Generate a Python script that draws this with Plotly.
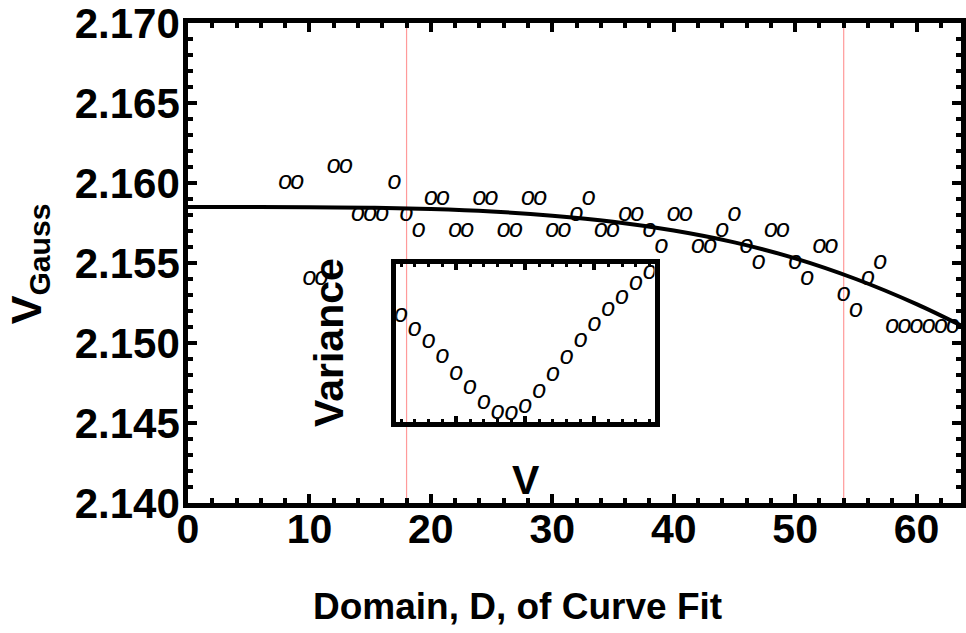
import plotly.graph_objects as go

# ---- data ----
domain_d = list(range(8, 64))
v_gauss = [2.160, 2.160, 2.154, 2.154, 2.161, 2.161, 2.158, 2.158, 2.158, 2.160,
           2.158, 2.157, 2.159, 2.159, 2.157, 2.157, 2.159, 2.159, 2.157, 2.157,
           2.159, 2.159, 2.157, 2.157, 2.158, 2.159, 2.157, 2.157, 2.158, 2.158,
           2.157, 2.156, 2.158, 2.158, 2.156, 2.156, 2.157, 2.158, 2.156, 2.155,
           2.157, 2.157, 2.155, 2.154, 2.156, 2.156, 2.153, 2.152, 2.154, 2.155,
           2.151, 2.151, 2.151, 2.151, 2.151, 2.151]

fit_d = [0, 5, 10, 15, 20, 25, 30, 35, 40, 45, 50, 55, 60, 63.7]
fit_v = [2.15850, 2.15850, 2.15849, 2.15845, 2.15837, 2.15822, 2.15796,
         2.15758, 2.15703, 2.15629, 2.15529, 2.15400, 2.15243, 2.15108]

domain_limits = [18, 54]

inset_v = list(range(1, 20))
inset_variance = [0.671, 0.583, 0.508, 0.414, 0.307, 0.219, 0.125, 0.063, 0.056,
                  0.100, 0.194, 0.301, 0.408, 0.514, 0.614, 0.708, 0.784, 0.871, 0.945]

x_ticks = [0, 10, 20, 30, 40, 50, 60]
y_ticks = [2.140, 2.145, 2.150, 2.155, 2.160, 2.165, 2.170]

FONT = "Liberation Sans"
marker_font = dict(family=FONT, size=25, style="italic", color="black")

fig = go.Figure()

fig.add_trace(go.Scatter(x=fit_d, y=fit_v, mode="lines", line=dict(color="black", width=4, shape="spline"),
                         hoverinfo="skip", showlegend=False))
fig.add_trace(go.Scatter(x=domain_d, y=v_gauss, mode="text", text=["o"] * len(domain_d),
                         textposition="middle center", textfont=marker_font, showlegend=False))
fig.add_trace(go.Scatter(x=inset_v, y=inset_variance, mode="text", text=["o"] * len(inset_v),
                         textposition="middle center", textfont=marker_font, showlegend=False,
                         xaxis="x2", yaxis="y2"))

for d in domain_limits:
    fig.add_shape(type="line", xref="x", yref="paper", x0=d, x1=d, y0=0, y1=1,
                  line=dict(color="#ff9a9a", width=1.2), layer="below")

xtickfont = dict(family=FONT, size=41, weight="bold", color="black")
ytickfont = dict(family=FONT, size=42, weight="bold", color="black")

fig.update_layout(
    width=966, height=633,
    margin=dict(l=188, r=0, t=20, b=130),
    paper_bgcolor="white", plot_bgcolor="rgba(0,0,0,0)",
    showlegend=False,
    xaxis=dict(range=[0, 63.66], tickvals=x_ticks, ticktext=[str(t) for t in x_ticks],
               ticks="inside", ticklen=9, tickwidth=4, tickcolor="black",
               showline=True, linewidth=4.5, linecolor="black", mirror="allticks",
               minor=dict(dtick=2, tick0=0, ticks="inside", ticklen=5, tickwidth=3.5, tickcolor="black"),
               tickfont=xtickfont, showgrid=False, zeroline=False, ticklabelstandoff=-14,
               ticklabeloverflow="allow"),
    yaxis=dict(range=[2.140, 2.170], tickvals=y_ticks, ticktext=["%.3f" % t for t in y_ticks],
               ticks="inside", ticklen=9, tickwidth=4, tickcolor="black",
               showline=True, linewidth=4.5, linecolor="black", mirror="allticks",
               minor=dict(dtick=0.001, tick0=2.14, ticks="inside", ticklen=5, tickwidth=3.5, tickcolor="black"),
               tickfont=ytickfont, showgrid=False, zeroline=False, ticklabelstandoff=-5,
               ticklabeloverflow="allow"),
    xaxis2=dict(domain=[0.2693, 0.6035], anchor="y2", range=[0.65, 19.35],
                ticks="inside", dtick=5, tick0=0, ticklen=6, tickwidth=4, tickcolor="black",
                minor=dict(dtick=1, ticks="inside", ticklen=3, tickwidth=3, tickcolor="black"),
                showticklabels=False, showline=True, linewidth=5, linecolor="black",
                mirror="allticks", showgrid=False, zeroline=False),
    yaxis2=dict(domain=[0.1679, 0.4984], anchor="x2", range=[0, 1],
                ticks="", showticklabels=False, showline=True, linewidth=5, linecolor="black",
                mirror=True, showgrid=False, zeroline=False),
)

ann_font = dict(family=FONT, size=41, weight="bold", color="black")
fig.add_annotation(text="Domain, D, of Curve Fit", xref="paper", yref="paper",
                   x=0.4267, y=-0.2155, xanchor="center", yanchor="middle", showarrow=False,
                   font=dict(family=FONT, size=37, weight="bold", color="black"))
fig.add_annotation(text="V<sub>Gauss</sub>", xref="paper", yref="paper",
                   x=-0.2057, y=0.4995, xanchor="center", yanchor="middle", showarrow=False,
                   textangle=-90, font=dict(family=FONT, size=43, weight="bold", color="black"))
fig.add_annotation(text="Variance", xref="paper", yref="paper",
                   x=0.1825, y=0.3337, xanchor="center", yanchor="middle", showarrow=False,
                   textangle=-90, font=ann_font)
fig.add_annotation(text="V", xref="paper", yref="paper",
                   x=0.437, y=0.0477, xanchor="center", yanchor="middle", showarrow=False,
                   font=ann_font)

fig.write_html("out.html")
